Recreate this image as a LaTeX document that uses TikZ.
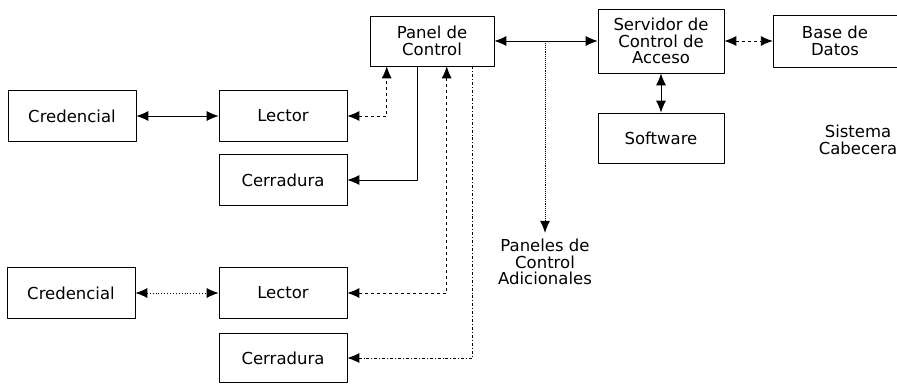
\documentclass[tikz,border=0pt]{standalone}
\usepackage{fontspec}
\setmainfont{DejaVu Sans}
\usetikzlibrary{arrows.meta}

\begin{document}
\begin{tikzpicture}[x=1pt,y=-1pt,>={Latex[length=12pt,width=10pt]}, font=\fontsize{16.5}{16.7}\selectfont, line join=round]
	\tikzset{caja/.style={draw,line width=0.6pt,minimum width=128pt,minimum height=51pt,align=center,inner sep=1pt},
		conex/.style={line width=0.9pt},
		texto/.style={align=center,inner sep=2pt}}
	\useasboundingbox (0,0) rectangle (897,383);
	% equipo de la puerta
	\node[caja] (cred1) at (72,116) {Credencial};
	\node[caja] (lect1) at (283,116) {Lector};
	\node[caja] (cerr1) at (283,180) {Cerradura};
	\node[caja] (cred2) at (71,293) {Credencial};
	\node[caja] (lect2) at (283,293) {Lector};
	\node[caja,minimum height=49pt] (cerr2) at (283,358) {Cerradura};
	% sistema cabecera
	\node[caja,minimum width=124pt,minimum height=50pt] (panel) at (432,41) {Panel de\\Control};
	\node[caja,minimum width=126pt,minimum height=64pt] (serv) at (661,41) {Servidor de\\Control de\\Acceso};
	\node[caja,minimum width=126pt,minimum height=50pt] (soft) at (661,138) {Software};
	\node[texto,minimum width=124pt,minimum height=52pt] (base) at (835,41) {Base de\\Datos};
	\draw[line width=0.6pt] (base.north east) -- (base.north west) -- (base.south west) -- (base.south east);
	\node[texto] (sist) at (858,140) {Sistema\\Cabecera};
	\node[texto,outer sep=4pt] (adic) at (545,262) {Paneles de\\Control\\Adicionales};
	% conexiones
	\draw[conex,<->] (cred1) -- (lect1);
	\draw[conex,<->,dotted] (cred2) -- (lect2);
	\draw[conex,<->,dashed] (lect1.east) -| ([xshift=17pt]panel.south west);
	\draw[conex,->] ([xshift=48pt]panel.south west) |- (cerr1.east);
	\draw[conex,<->,dashed] (lect2.east) -| ([xshift=77pt]panel.south west);
	\draw[conex,->,dash dot] ([xshift=103pt]panel.south west) |- (cerr2.east);
	\draw[conex,<->] (panel) -- (serv);
	\draw[conex,->,densely dotted] (panel.east -| adic.north) -- (adic.north);
	\draw[conex,<->,dashed] (serv) -- (base.west);
	\draw[conex,<->] (serv) -- (soft);
\end{tikzpicture}
\end{document}
